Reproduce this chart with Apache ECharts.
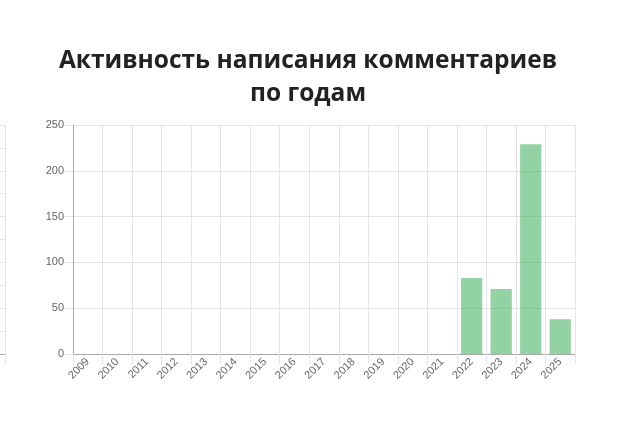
<!DOCTYPE html>
<html><head><meta charset="utf-8">
<script src="https://cdn.jsdelivr.net/npm/echarts@6/dist/echarts.min.js"></script>
<style>html,body{margin:0;padding:0;background:#fff}#c{width:642px;height:442px}</style>
</head><body><div id="c"></div>
<script>
const titleText = 'Активность написания комментариев\nпо годам';
const years = ['2009','2010','2011','2012','2013','2014','2015','2016','2017','2018','2019','2020','2021','2022','2023','2024','2025'];
const comments = [0,0,0,0,0,0,0,0,0,0,0,0,0,83,71,229,38];
const yTicks = {min:0, max:250, interval:50};
const neighbourCats = [''];

const chart = echarts.init(document.getElementById('c'), null, {renderer:'canvas'});
const gridColor = '#e4e4e4';
const axisColor = '#a9a9a9';
chart.setOption({
  animation:false,
  title:{text:titleText, left:303, textAlign:'center', top:40,
    textStyle:{fontFamily:'Open Sans', fontWeight:'bold', fontSize:24.5, color:'#222', lineHeight:33}},
  grid:[
    {left:73, right:67, top:125, bottom:88, containLabel:false, outerBoundsMode:'none'},
    {left:-200, right:637, top:125, bottom:88, containLabel:false, outerBoundsMode:'none'}
  ],
  xAxis:[
    {type:'category', data:years, gridIndex:0,
     axisLine:{lineStyle:{color:axisColor}},
     axisTick:{show:true, length:10, lineStyle:{color:gridColor}},
     splitLine:{show:true, lineStyle:{color:gridColor}},
     axisLabel:{rotate:45, fontSize:11, color:'#666', fontFamily:'Liberation Sans', margin:6}},
    {type:'category', data:neighbourCats, gridIndex:1,
     axisLine:{lineStyle:{color:axisColor}},
     axisTick:{show:true, length:10, lineStyle:{color:gridColor}},
     splitLine:{show:true, lineStyle:{color:gridColor}},
     axisLabel:{show:false}}
  ],
  yAxis:[
    {type:'value', gridIndex:0, min:yTicks.min, max:yTicks.max, interval:yTicks.interval,
     axisLine:{show:true, lineStyle:{color:axisColor}},
     axisTick:{show:true, length:8, lineStyle:{color:gridColor}},
     splitLine:{show:true, lineStyle:{color:gridColor}},
     axisLabel:{fontSize:11, color:'#666', fontFamily:'Liberation Sans', margin:9}},
    {type:'value', gridIndex:1, min:0, max:10, interval:1,
     axisLine:{show:false}, axisTick:{show:false},
     splitLine:{show:true, lineStyle:{color:gridColor}},
     axisLabel:{show:false}}
  ],
  series:[{
    type:'bar', data:comments, xAxisIndex:0, yAxisIndex:0,
    barWidth:'72%',
    itemStyle:{color:'rgba(75,180,100,0.6)', borderWidth:0}
  }]
});
</script></body></html>
